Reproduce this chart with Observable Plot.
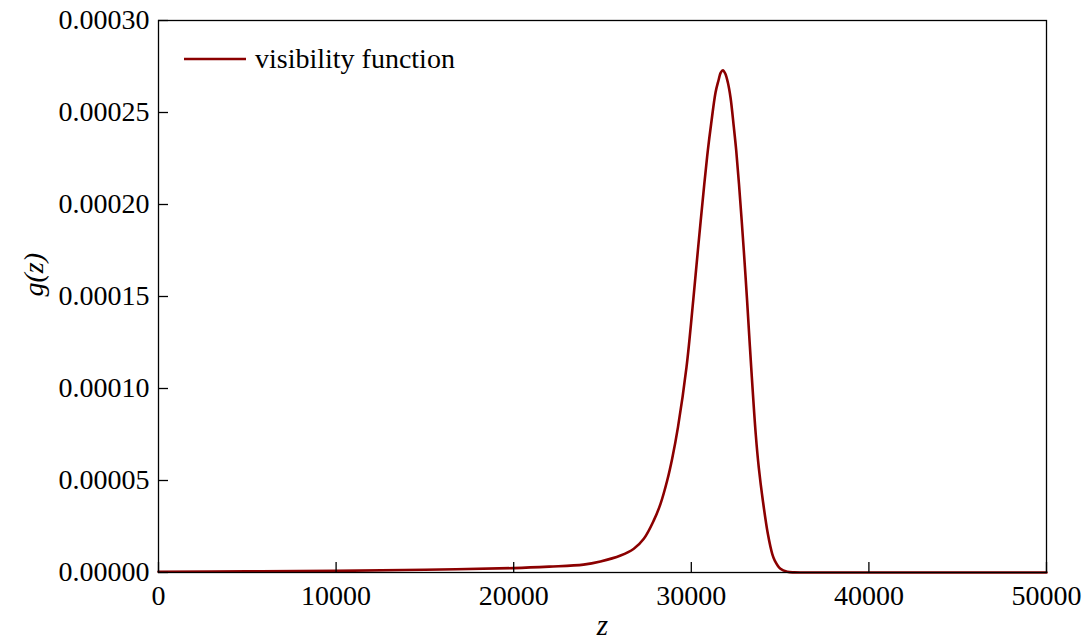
<!DOCTYPE html>
<html>
<head>
<meta charset="utf-8">
<script src="https://cdn.jsdelivr.net/npm/d3@7"></script>
<script src="https://cdn.jsdelivr.net/npm/@observablehq/plot@0.6"></script>
<style>
  html, body { margin: 0; padding: 0; background: #fff; }
  #chart { position: relative; width: 1084px; height: 642px; }
</style>
</head>
<body>
<div id="chart"></div>
<script>
// Data
const zValues = [0, 5000, 10000, 15000, 20000, 22000, 23930, 24886, 26015, 26763, 27326, 27889, 28266, 28643, 28925, 29250, 29730, 30107, 30370, 30730, 30930, 31120, 31365, 31530, 31650, 31780, 31910, 32055, 32210, 32395, 32530, 32686, 32956, 33140, 33370, 33630, 33800, 34030, 34310, 34560, 34700, 35020, 35400, 35800, 36500, 40000, 50000];
const gValues = [0.0000004, 0.0000006, 0.0000009, 0.0000015, 0.0000024, 0.0000032, 0.0000043, 0.000006, 0.0000092, 0.0000129, 0.0000183, 0.0000283, 0.0000373, 0.00005, 0.000062, 0.000079, 0.0001116, 0.0001478, 0.000175, 0.000211, 0.0002293, 0.000244, 0.0002609, 0.0002674, 0.0002715, 0.000273, 0.0002712, 0.0002664, 0.000258, 0.000242, 0.0002293, 0.000211, 0.000175, 0.000148, 0.000112, 0.000075, 0.000057, 0.000039, 0.000021, 0.00001, 0.0000065, 0.000002, 0.0000004, 0.00000005, 0, 0, 0];
const xTicks = [0, 10000, 20000, 30000, 40000, 50000];
const yTicks = [0, 0.00005, 0.0001, 0.00015, 0.0002, 0.00025, 0.0003];
const seriesName = "visibility function";
const xLabel = "z";
const yLabel = "g(z)";

const data = zValues.map((z, i) => ({z, g: gValues[i]}));
const lineColor = "#8b0000";
const font = "'Liberation Serif', 'DejaVu Serif', serif";

const plot = Plot.plot({
  width: 1084,
  height: 642,
  marginLeft: 158,
  marginRight: 38,
  marginTop: 20,
  marginBottom: 70,
  style: {fontFamily: font, fontSize: "28px", background: "#fff", color: "#000"},
  x: {domain: [0, 50000]},
  y: {domain: [0, 0.0003]},
  marks: [
    Plot.line(data, {x: "z", y: "g", stroke: lineColor, strokeWidth: 2.6, curve: "catmull-rom"}),
    Plot.frame({stroke: "#000", strokeWidth: 1.3}),
    Plot.axisX({ticks: xTicks, tickSize: -10, tickPadding: 23, tickFormat: d => String(d), label: null, fontSize: 28, strokeWidth: 1.3}),
    Plot.axisY({ticks: yTicks, tickSize: -10, tickPadding: 19, tickFormat: d3.format(".5f"), label: null, fontSize: 28, strokeWidth: 1.3}),
    Plot.text([xLabel], {frameAnchor: "bottom", dy: 62, fontStyle: "italic", fontSize: 29}),
    Plot.text([yLabel], {frameAnchor: "left", dx: -124, rotate: -90, fontStyle: "italic", fontSize: 28})
  ]
});
document.getElementById("chart").appendChild(plot);

// Legend (inside the plot area, upper left)
const svg = d3.select(plot);
const lg = svg.append("g").attr("transform", "translate(184,59)");
lg.append("line").attr("x1", 0).attr("x2", 62).attr("y1", 0).attr("y2", 0)
  .attr("stroke", lineColor).attr("stroke-width", 2.6);
lg.append("text").attr("x", 71).attr("y", 0).attr("dy", "0.32em")
  .attr("text-anchor", "start")
  .attr("font-family", font).attr("font-size", 28).attr("fill", "#000")
  .text(seriesName);
</script>
</body>
</html>
